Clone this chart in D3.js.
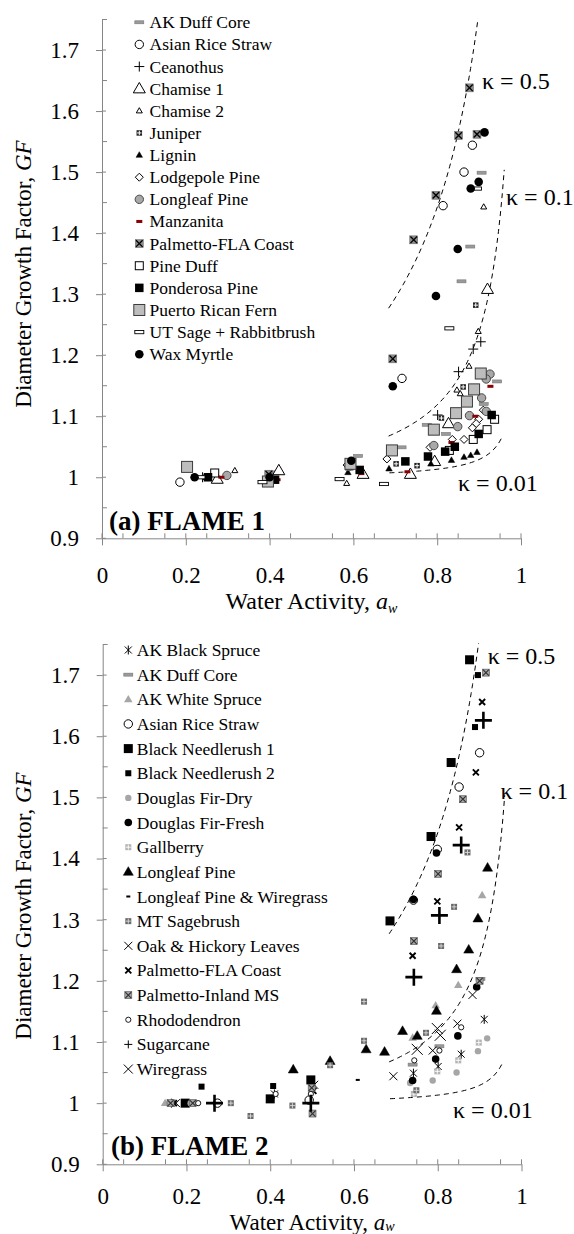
<!DOCTYPE html>
<html><head><meta charset="utf-8">
<script src="https://cdn.jsdelivr.net/npm/d3@7/dist/d3.min.js"></script>
<style>
body{margin:0;background:#fff}
svg{display:block}
text{font-family:"Liberation Serif","Times New Roman",serif;fill:#000}
</style>
</head><body>
<svg id="chart" width="574" height="1234"></svg>
<script>
// ---------------- DATA ----------------
const yTickValues = [0.9, 1.0, 1.1, 1.2, 1.3, 1.4, 1.5, 1.6, 1.7];
const yTickLabels = ["0.9", "1", "1.1", "1.2", "1.3", "1.4", "1.5", "1.6", "1.7"];
const xTickValues = [0, 0.2, 0.4, 0.6, 0.8, 1];
const xTickLabels = ["0", "0.2", "0.4", "0.6", "0.8", "1"];

const kappaValues = [0.5, 0.1, 0.01];
const kappaLabels = ["κ = 0.5", "κ = 0.1", "κ = 0.01"];
const kappaAwStart = [0.684, 0.684, 0.686];
const kappaAwEnd = [0.8975, 0.96, 0.953];

const panelTitles = ["(a) FLAME 1", "(b) FLAME 2"];

// FLAME 1 series  [aw, GF]
const f1Names = ["AK Duff Core", "Asian Rice Straw", "Ceanothus", "Chamise 1", "Chamise 2", "Juniper",
  "Lignin", "Lodgepole Pine", "Longleaf Pine", "Manzanita", "Palmetto-FLA Coast", "Pine Duff",
  "Ponderosa Pine", "Puerto Rican Fern", "UT Sage + Rabbitbrush", "Wax Myrtle"];
const f1AKDuffCore = [[0.943,1.157],[0.911,1.120],[0.906,1.499],[0.879,1.378],[0.858,1.321],[0.821,1.071],[0.775,1.086],[0.715,1.049],[0.611,1.035],[0.402,1.008]];
const f1AsianRice = [[0.884,1.544],[0.864,1.500],[0.814,1.445],[0.716,1.162],[0.186,0.992]];
const f1Ceanothus = [[0.904,1.222],[0.886,1.210],[0.851,1.173],[0.801,1.102],[0.240,1.000]];
const f1Chamise1 = [[0.920,1.308],[0.827,1.088],[0.794,1.026],[0.736,1.005],[0.623,1.005],[0.422,1.011],[0.275,0.997]];
const f1Chamise2 = [[0.911,1.443],[0.898,1.239],[0.876,1.182],[0.847,1.143],[0.855,1.137],[0.584,0.990],[0.317,1.011]];
const f1Juniper = [[0.892,1.282],[0.862,1.148],[0.810,1.097],[0.752,1.019],[0.702,1.022],[0.245,1.000]];
const f1Lignin = [[0.895,1.041],[0.880,1.036],[0.864,1.033],[0.834,1.028],[0.785,1.022],[0.685,1.014],[0.587,1.008],[0.398,1.002]];
const f1Lodgepole = [[0.910,1.110],[0.899,1.095],[0.893,1.088],[0.884,1.081],[0.864,1.062],[0.836,1.062],[0.783,1.049],[0.680,1.030],[0.585,1.020]];
const f1Longleaf = [[0.926,1.169],[0.917,1.161],[0.906,1.130],[0.917,1.108],[0.877,1.101],[0.849,1.083],[0.792,1.052],[0.590,1.018],[0.298,1.003]];
const f1Manzanita = [[0.927,1.149],[0.891,1.100],[0.834,1.057],[0.729,1.009],[0.619,1.006],[0.419,0.996],[0.285,1.000]];
const f1PalmettoFLA = [[0.877,1.638],[0.851,1.560],[0.895,1.562],[0.797,1.462],[0.744,1.389],[0.694,1.194],[0.590,1.018],[0.398,1.005]];
const f1PineDuff = [[0.937,1.095],[0.919,1.078],[0.886,1.062],[0.829,1.044],[0.269,1.007]];
const f1Ponderosa = [[0.930,1.102],[0.899,1.071],[0.842,1.050],[0.819,1.042],[0.778,1.034],[0.724,1.026],[0.615,1.012],[0.413,0.996],[0.253,1.000]];
const f1PuertoRicanFern = [[0.904,1.170],[0.888,1.144],[0.871,1.124],[0.845,1.105],[0.792,1.078],[0.692,1.044],[0.593,1.022],[0.396,0.993],[0.203,1.017]];
const f1UTSage = [[0.895,1.473],[0.829,1.244],[0.673,0.989],[0.567,0.997],[0.383,0.992],[0.235,1.000]];
const f1WaxMyrtle = [[0.913,1.565],[0.899,1.484],[0.880,1.473],[0.849,1.374],[0.797,1.297],[0.694,1.149],[0.595,1.027],[0.400,1.000],[0.221,1.000]];
const f1Values = [f1AKDuffCore, f1AsianRice, f1Ceanothus, f1Chamise1, f1Chamise2, f1Juniper, f1Lignin,
  f1Lodgepole, f1Longleaf, f1Manzanita, f1PalmettoFLA, f1PineDuff, f1Ponderosa, f1PuertoRicanFern, f1UTSage, f1WaxMyrtle];

// FLAME 2 series  [aw, GF]
const f2Names = ["AK Black Spruce", "AK Duff Core", "AK White Spruce", "Asian Rice Straw", "Black Needlerush 1",
  "Black Needlerush 2", "Douglas Fir-Dry", "Douglas Fir-Fresh", "Gallberry", "Longleaf Pine",
  "Longleaf Pine & Wiregrass", "MT Sagebrush", "Oak & Hickory Leaves", "Palmetto-FLA Coast",
  "Palmetto-Inland MS", "Rhododendron", "Sugarcane", "Wiregrass"];
const f2AKBlackSpruce = [[0.911,1.137],[0.856,1.080],[0.801,1.060],[0.742,1.049],[0.410,1.015],[0.164,1.000]];
const f2AKDuffCore = [[0.902,1.203],[0.804,1.093],[0.740,1.063],[0.215,1.000]];
const f2AKWhiteSpruce = [[0.906,1.340],[0.849,1.193],[0.795,1.160],[0.740,1.107],[0.149,1.000]];
const f2AsianRice = [[0.900,1.573],[0.851,1.517],[0.799,1.415],[0.742,1.332],[0.493,1.005],[0.274,1.000]];
const f2BlackNeedle1 = [[0.876,1.725],[0.832,1.557],[0.784,1.436],[0.686,1.298],[0.497,1.038],[0.400,1.007],[0.197,1.000]];
const f2BlackNeedle2 = [[0.896,1.700],[0.889,1.615],[0.407,1.028],[0.236,1.027]];
const f2DouglasDry = [[0.918,1.106],[0.896,1.085],[0.845,1.050],[0.788,1.037],[0.734,1.033],[0.210,1.000]];
const f2DouglasFresh = [[0.797,1.409],[0.742,1.333],[0.893,1.190],[0.848,1.110],[0.795,1.072],[0.740,1.037]];
const f2Gallberry = [[0.898,1.099],[0.849,1.070],[0.799,1.052],[0.743,1.015],[0.222,1.000]];
const f2Longleaf = [[0.919,1.385],[0.896,1.302],[0.874,1.251],[0.845,1.219],[0.797,1.151],[0.716,1.118],[0.751,1.110],[0.629,1.088],[0.673,1.084],[0.543,1.069],[0.455,1.055]];
const f2LongleafWiregrass = [[0.609,1.038]];
const f2MTSagebrush = [[0.871,1.410],[0.839,1.321],[0.808,1.257],[0.772,1.115],[0.749,1.021],[0.624,1.166],[0.624,1.102],[0.543,1.062],[0.453,0.996],[0.353,0.979],[0.306,1.000]];
const f2OakHickory = [[0.883,1.177],[0.847,1.130],[0.788,1.086],[0.694,1.044],[0.505,1.030],[0.175,1.000]];
const f2PalmettoFLA = [[0.906,1.656],[0.891,1.541],[0.851,1.451],[0.799,1.330],[0.740,1.241],[0.503,1.020],[0.170,1.000]];
const f2PalmettoInland = [[0.915,1.704],[0.860,1.497],[0.801,1.375],[0.743,1.265],[0.900,1.200],[0.499,1.025],[0.501,0.983],[0.162,1.000],[0.215,1.000]];
const f2Rhododendron = [[0.856,1.124],[0.804,1.086],[0.744,1.070],[0.413,1.015],[0.497,1.015],[0.228,1.000]];
const f2Sugarcane = [[0.909,1.626],[0.856,1.422],[0.804,1.307],[0.743,1.206],[0.497,1.000],[0.267,1.000]];
const f2Wiregrass = [[0.799,1.122],[0.806,1.111],[0.751,1.088]];
const f2Values = [f2AKBlackSpruce, f2AKDuffCore, f2AKWhiteSpruce, f2AsianRice, f2BlackNeedle1, f2BlackNeedle2,
  f2DouglasDry, f2DouglasFresh, f2Gallberry, f2Longleaf, f2LongleafWiregrass, f2MTSagebrush, f2OakHickory,
  f2PalmettoFLA, f2PalmettoInland, f2Rhododendron, f2Sugarcane, f2Wiregrass];

// ---------------- STYLES ----------------
const f1Markers = ["dashGray","openCircle","plus","triOpenBig","triOpenSmall","juniper","triBlackSmall",
  "diamond","grayCircle","dashRed","grayBoxX","openSquare","blackSquare","fern","dashWhite","blackCircle"];
const f2Markers = ["asterisk","dashGray","grayTri","openCircle","bigSquare","smallSquare","grayDot","blackDot",
  "gallberry","blackTri","tinyDash","sage","xThin","xBold","grayBoxX2","tinyCircle","bigPlus","xBig"];

const svg = d3.select("#chart");
svg.append("rect").attr("width",574).attr("height",1234).attr("fill","#fff");

function tri(g, x, y, s, fill, stroke, sw) {
  const h = s * Math.sqrt(3) / 2;
  g.append("path").attr("d", `M${x},${y - h*0.6}L${x + s/2},${y + h*0.4}L${x - s/2},${y + h*0.4}Z`)
    .attr("fill", fill).attr("stroke", stroke).attr("stroke-width", sw);
}
function sq(g, x, y, s, fill, stroke, sw) {
  return g.append("rect").attr("x", x - s/2).attr("y", y - s/2).attr("width", s).attr("height", s)
    .attr("fill", fill).attr("stroke", stroke).attr("stroke-width", sw);
}
function bar(g, x, y, w, h, fill, stroke, sw) {
  g.append("rect").attr("x", x - w/2).attr("y", y - h/2).attr("width", w).attr("height", h)
    .attr("fill", fill).attr("stroke", stroke).attr("stroke-width", sw);
}
function cross(g, x, y, r, color, sw) {
  g.append("path").attr("d", `M${x-r},${y}H${x+r}M${x},${y-r}V${y+r}`).attr("stroke", color).attr("stroke-width", sw).attr("fill","none");
}
function xcross(g, x, y, r, color, sw) {
  g.append("path").attr("d", `M${x-r},${y-r}L${x+r},${y+r}M${x-r},${y+r}L${x+r},${y-r}`).attr("stroke", color).attr("stroke-width", sw).attr("fill","none");
}
function circ(g, x, y, r, fill, stroke, sw) {
  g.append("circle").attr("cx", x).attr("cy", y).attr("r", r).attr("fill", fill).attr("stroke", stroke).attr("stroke-width", sw);
}

function marker(g, type, x, y, legend) {
  switch (type) {
    case "dashGray": bar(g, x, y, 9, 3, "#9a9a9a", "#777", 0.6); break;
    case "openCircle": circ(g, x, y, 4.2, "#fff", "#000", 1); break;
    case "plus": cross(g, x, y, 5, "#000", 1); break;
    case "triOpenBig": tri(g, x, y, 12, "#fff", "#000", 1); break;
    case "triOpenSmall": tri(g, x, y, 6, "#fff", "#000", 1); break;
    case "juniper": sq(g, x, y, 5.5, "#222", "none", 0); cross(g, x, y, 2.2, "#fff", 1); break;
    case "triBlackSmall": tri(g, x, y, 6.5, "#000", "#000", 0.5); break;
    case "diamond": g.append("path").attr("d", `M${x},${y-4}L${x+4},${y}L${x},${y+4}L${x-4},${y}Z`).attr("fill","#fff").attr("stroke","#000").attr("stroke-width",1); break;
    case "grayCircle": circ(g, x, y, 4.2, "#a8a8a8", "#4a4a4a", 1); break;
    case "dashRed": bar(g, x, y, 6, 3, "#8b0000", "none", 0); break;
    case "grayBoxX": sq(g, x, y, 8, "#8c8c8c", "#666", 0.5); xcross(g, x, y, 3.3, "#000", 1.3); break;
    case "openSquare": sq(g, x, y, 8, "#fff", "#000", 1); break;
    case "blackSquare": sq(g, x, y, 8.5, "#000", "none", 0); break;
    case "fern": sq(g, x, y, 11, "#bdbdbd", "#3c3c3c", 1); break;
    case "dashWhite": bar(g, x, y, 9, 3.2, "#fff", "#000", 0.9); break;
    case "blackCircle": circ(g, x, y, 4.3, "#000", "none", 0); break;
    case "asterisk": xcross(g, x, y, 3.5, "#000", 1); g.append("path").attr("d", `M${x},${y-4.5}V${y+4.5}`).attr("stroke","#000").attr("stroke-width",1); break;
    case "grayTri": tri(g, x, y, 8.5, "#a6a6a6", "none", 0); break;
    case "bigSquare": sq(g, x, y, 9, "#000", "none", 0); break;
    case "smallSquare": sq(g, x, y, 6, "#000", "none", 0); break;
    case "grayDot": circ(g, x, y, 3.2, "#a6a6a6", "none", 0); break;
    case "blackDot": circ(g, x, y, 3.8, "#000", "none", 0); break;
    case "gallberry": sq(g, x, y, 6, "#b3b3b3", "none", 0); cross(g, x, y, 2.5, "#fff", 0.9); break;
    case "blackTri": tri(g, x, y, 10, "#000", "#000", 0.5); break;
    case "tinyDash": bar(g, x, y, 4, 2, "#000", "none", 0); break;
    case "sage": sq(g, x, y, 6, "#6a6a6a", "none", 0); cross(g, x, y, 2.5, "#ddd", 0.9); break;
    case "xThin": xcross(g, x, y, 4, "#000", 1); break;
    case "xBold": xcross(g, x, y, 3, "#000", 1.9); break;
    case "grayBoxX2": sq(g, x, y, 7, "#a5a5a5", "#555", 0.6); xcross(g, x, y, 3, "#303030", 1.1); break;
    case "tinyCircle": circ(g, x, y, 2.6, "#fff", "#000", 0.9); break;
    case "bigPlus": if (legend) cross(g, x, y, 4, "#000", 1); else cross(g, x, y, 8.5, "#000", 2.6); break;
    case "xBig": xcross(g, x, y, legend ? 4.5 : 5.5, "#000", 1); break;
  }
}

const axisColor = "#868686";

function drawPanel(cfg) {
  const { x, y, names, values, markers, title, titlePos, legendX, legendTextX, legendY0, legendDy,
          yLabelPos, xLabelY, xLabelSize, xTickPad, subDy, kappaPos } = cfg;
  const g = svg.append("g");
  const x0 = x.range()[0], y0 = y.range()[0];

  // y axis
  const ya = g.append("g").attr("transform", `translate(${x0},0)`)
    .call(d3.axisLeft(y).tickValues(yTickValues).tickFormat((d, i) => yTickLabels[i])
      .tickSizeInner(6).tickSizeOuter(0).tickPadding(17));
  ya.select(".domain").attr("stroke", axisColor);
  ya.selectAll(".tick line").attr("stroke", axisColor);
  ya.selectAll(".tick text").attr("font-size", 23).attr("font-family", "Liberation Serif").attr("fill","#000");
  yTickValues.forEach(v => g.append("line").attr("x1", x0).attr("x2", x0 + 4).attr("y1", y(v)).attr("y2", y(v)).attr("stroke", axisColor));
  d3.range(0.95, 1.76, 0.1).forEach(v => g.append("line").attr("x1", x0).attr("x2", x0 + 5).attr("y1", y(v)).attr("y2", y(v)).attr("stroke", axisColor));

  // x axis
  const xa = g.append("g").attr("transform", `translate(0,${y0})`)
    .call(d3.axisBottom(x).tickValues(xTickValues).tickFormat((d, i) => xTickLabels[i])
      .tickSizeInner(7).tickSizeOuter(0).tickPadding(xTickPad));
  xa.select(".domain").attr("stroke", axisColor);
  xa.selectAll(".tick line").attr("stroke", axisColor);
  xa.selectAll(".tick text").attr("font-size", 23).attr("font-family", "Liberation Serif").attr("fill","#000");
  xTickValues.forEach(v => g.append("line").attr("x1", x(v)).attr("x2", x(v)).attr("y1", y0).attr("y2", y0 - 5).attr("stroke", axisColor));
  d3.range(0.05, 1.0, 0.1).forEach(v => g.append("line").attr("x1", x(v)).attr("x2", x(v)).attr("y1", y0).attr("y2", y0 - 5).attr("stroke", axisColor));

  // axis titles
  const yl = g.append("text").attr("transform", `translate(${yLabelPos[0]},${yLabelPos[1]}) rotate(-90)`)
    .attr("text-anchor", "middle").attr("font-size", 23);
  yl.append("tspan").text("Diameter Growth Factor, ");
  yl.append("tspan").attr("font-style", "italic").text("GF");
  const xl = g.append("text").attr("x", (x.range()[0] + x.range()[1]) / 2).attr("y", xLabelY)
    .attr("text-anchor", "middle").attr("font-size", xLabelSize);
  xl.append("tspan").text("Water Activity, ");
  xl.append("tspan").attr("font-style", "italic").text("a");
  xl.append("tspan").attr("font-style", "italic").attr("font-size", 14).attr("dy", subDy).text("w");

  // kappa curves
  const line = d3.line().x(d => x(d[0])).y(d => y(d[1]));
  kappaValues.forEach((k, i) => {
    const n = 60;
    const pts = d3.range(n + 1).map(j => {
      const aw = kappaAwStart[i] + (kappaAwEnd[i] - kappaAwStart[i]) * j / n;
      return [aw, Math.cbrt(1 + k * aw / (1 - aw))];
    });
    g.append("path").attr("d", line(pts)).attr("fill", "none").attr("stroke", "#000")
      .attr("stroke-width", 1).attr("stroke-dasharray", "5,4");
    g.append("text").attr("x", kappaPos[i][0]).attr("y", kappaPos[i][1]).attr("font-size", 24).text(kappaLabels[i]);
  });

  // points
  values.forEach((series, si) => {
    const sg = g.append("g");
    series.forEach(d => marker(sg, markers[si], x(d[0]), y(d[1]), false));
  });

  // legend
  names.forEach((n, i) => {
    const ly = legendY0 + legendDy * i;
    marker(g, markers[i], legendX, ly, true);
    g.append("text").attr("x", legendTextX).attr("y", ly + 6).attr("font-size", 17.5).text(n);
  });

  // panel title
  g.append("text").attr("x", titlePos[0]).attr("y", titlePos[1]).attr("font-size", 27)
    .attr("font-weight", "bold").text(title);
}

drawPanel({
  x: d3.scaleLinear().domain([0, 1]).range([102, 521]),
  y: d3.scaleLinear().domain([0.9, 1.75]).range([538.3, 19.5]),
  names: f1Names, values: f1Values, markers: f1Markers, title: panelTitles[0], titlePos: [109, 529.5],
  legendX: 139.3, legendTextX: 149.6, legendY0: 22.3, legendDy: 22.13,
  yLabelPos: [31, 274], xLabelY: 608.5, xLabelSize: 24, xTickPad: 21, subDy: 4,
  kappaPos: [[482, 89], [506, 205], [458, 491]]
});
drawPanel({
  x: d3.scaleLinear().domain([0, 1]).range([102.7, 521.5]),
  y: d3.scaleLinear().domain([0.9, 1.75]).range([1164.3, 644.5]),
  names: f2Names, values: f2Values, markers: f2Markers, title: panelTitles[1], titlePos: [111, 1155],
  legendX: 128.3, legendTextX: 136.8, legendY0: 650, legendDy: 24.65,
  yLabelPos: [31, 906], xLabelY: 1229.5, xLabelSize: 23, xTickPad: 16, subDy: 1.5,
  kappaPos: [[487.7, 664], [500.5, 799], [453, 1118]]
});
</script>
</body></html>
